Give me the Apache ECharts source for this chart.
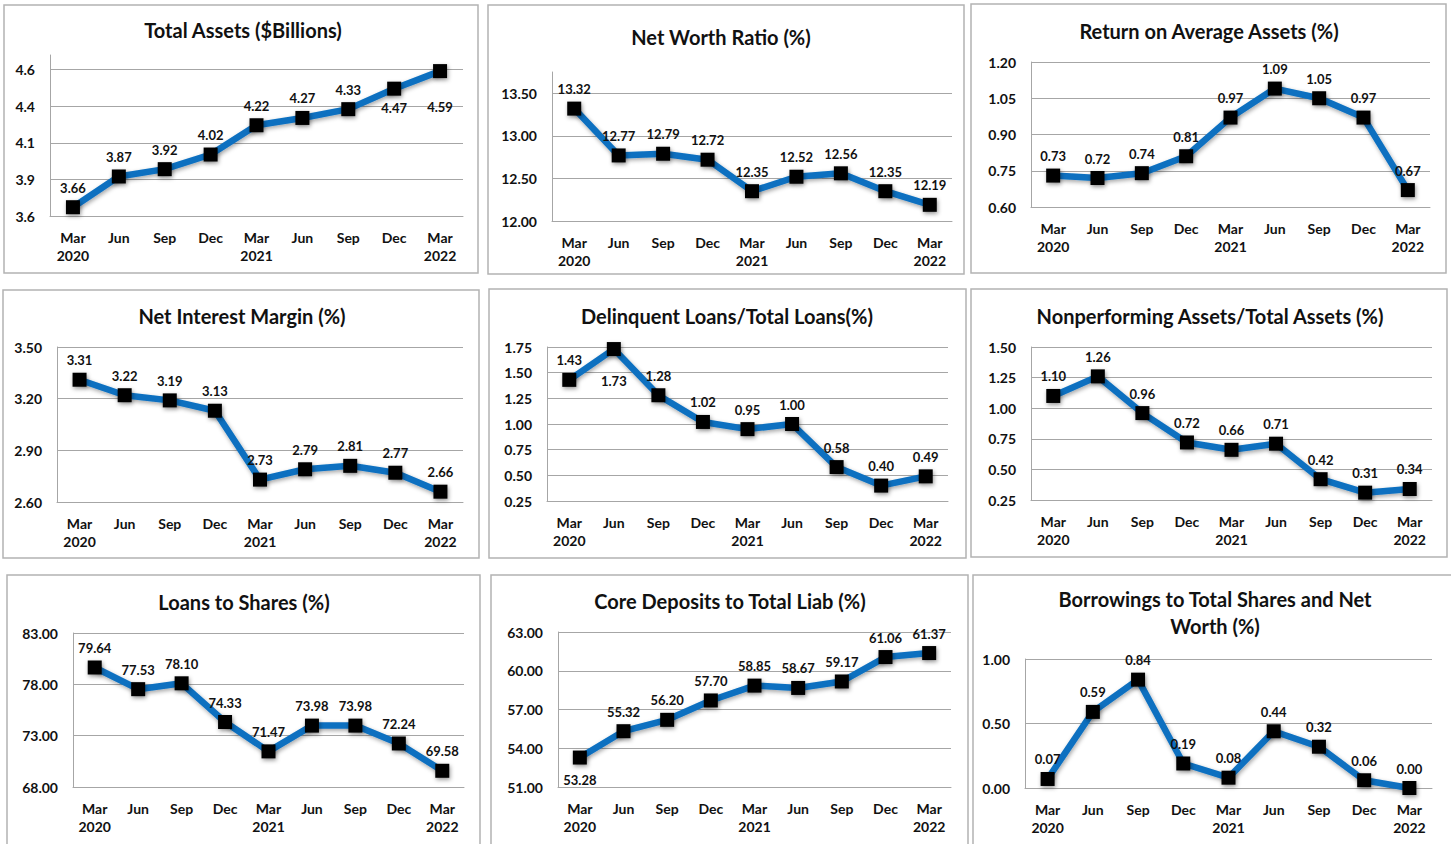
<!DOCTYPE html>
<html><head><meta charset="utf-8">
<script src="https://cdn.jsdelivr.net/npm/echarts@6/dist/echarts.min.js"></script>
<style>html,body{margin:0;padding:0;background:#fff}#c{width:1451px;height:844px}</style>
</head><body><div id="c"></div><script>
// ---------- data ----------
const categories = ['Mar\n2020','Jun','Sep','Dec','Mar\n2021','Jun','Sep','Dec','Mar\n2022'];

const totalAssets       = [3.66, 3.87, 3.92, 4.02, 4.22, 4.27, 4.33, 4.47, 4.59];
const netWorthRatio     = [13.32, 12.77, 12.79, 12.72, 12.35, 12.52, 12.56, 12.35, 12.19];
const returnOnAvgAssets = [0.73, 0.72, 0.74, 0.81, 0.97, 1.09, 1.05, 0.97, 0.67];
const netInterestMargin = [3.31, 3.22, 3.19, 3.13, 2.73, 2.79, 2.81, 2.77, 2.66];
const delinquentLoans   = [1.43, 1.73, 1.28, 1.02, 0.95, 1.00, 0.58, 0.40, 0.49];
const nonperforming     = [1.10, 1.26, 0.96, 0.72, 0.66, 0.71, 0.42, 0.31, 0.34];
const loansToShares     = [79.64, 77.53, 78.10, 74.33, 71.47, 73.98, 73.98, 72.24, 69.58];
const coreDeposits      = [53.28, 55.32, 56.20, 57.70, 58.85, 58.67, 59.17, 61.06, 61.37];
const borrowings        = [0.07, 0.59, 0.84, 0.19, 0.08, 0.44, 0.32, 0.06, 0.00];

const ticksTotalAssets  = ['3.6','3.9','4.1','4.4','4.6'];
const ticksNetWorth     = ['12.00','12.50','13.00','13.50'];
const ticksROAA         = ['0.60','0.75','0.90','1.05','1.20'];
const ticksNIM          = ['2.60','2.90','3.20','3.50'];
const ticksDelinquent   = ['0.25','0.50','0.75','1.00','1.25','1.50','1.75'];
const ticksNonperf      = ['0.25','0.50','0.75','1.00','1.25','1.50'];
const ticksLoans        = ['68.00','73.00','78.00','83.00'];
const ticksCore         = ['51.00','54.00','57.00','60.00','63.00'];
const ticksBorrow       = ['0.00','0.50','1.00'];

// ---------- layout / style ----------
const FONT = 'Lato';
const panels = [
  {title:['Total Assets ($Billions)'], data: totalAssets, ticks: ticksTotalAssets,
   min:3.6, max:4.7, interval:0.25, grid:[50,55,413,161], box:[4,5,474,268], tc:[243,30],
   below:{7:6, 8:22}},
  {title:['Net Worth Ratio (%)'], data: netWorthRatio, ticks: ticksNetWorth,
   min:12, max:13.75, interval:0.5, grid:[552,72,400,149], box:[488,5,476,269], tc:[721,37], below:{}},
  {title:['Return on Average Assets (%)'], data: returnOnAvgAssets, ticks: ticksROAA,
   min:0.6, max:1.2, interval:0.15, grid:[1031,62,399,145], box:[971,4,475,269], tc:[1209,31], below:{}},
  {title:['Net Interest Margin (%)'], data: netInterestMargin, ticks: ticksNIM,
   min:2.6, max:3.5, interval:0.3, grid:[57,347,406,155], box:[3,290,476,268], tc:[242,316], below:{}},
  {title:['Delinquent Loans/Total Loans(%)'], data: delinquentLoans, ticks: ticksDelinquent,
   min:0.25, max:1.75, interval:0.25, grid:[547,347,401,154], box:[489,289,477,269], tc:[727,316], below:{1:18}},
  {title:['Nonperforming Assets/Total Assets (%)'], data: nonperforming, ticks: ticksNonperf,
   min:0.25, max:1.5, interval:0.25, grid:[1031,347,401,153], box:[971,289,476,268], tc:[1210,316], below:{}},
  {title:['Loans to Shares (%)'], data: loansToShares, ticks: ticksLoans,
   min:68, max:83, interval:5, grid:[73,633,391,154], box:[7,575,473,290], tc:[244,602], below:{}},
  {title:['Core Deposits to Total Liab (%)'], data: coreDeposits, ticks: ticksCore,
   min:51, max:63, interval:3, grid:[558,632,393,155], box:[491,575,477,290], tc:[730,601], below:{0:9}},
  {title:['Borrowings to Total Shares and Net','Worth (%)'], data: borrowings, ticks: ticksBorrow,
   min:0, max:1, interval:0.5, grid:[1025,659,407,129], box:[973,575,490,290], tc:[1215,599], below:{}}
];

const grids = [], xAxes = [], yAxes = [], series = [], graphics = [];
panels.forEach((p, i) => {
  graphics.push({type:'rect', shape:{x:p.box[0], y:p.box[1], width:p.box[2], height:p.box[3]},
    style:{fill:'none', stroke:'#b3b3b3', lineWidth:1.5}, z:0});
  p.title.forEach((t, k) => {
    graphics.push({type:'text', x:p.tc[0], y:p.tc[1] + k*27, z:10,
      style:{text:t, align:'center', verticalAlign:'middle', fontFamily:FONT, fontSize:20,
             fontWeight:'bold', fill:'#111'}});
  });
  grids.push({left:p.grid[0], top:p.grid[1], width:p.grid[2], height:p.grid[3], containLabel:false});
  xAxes.push({type:'category', gridIndex:i, data:categories, boundaryGap:true,
    axisLine:{show:true, lineStyle:{color:'#a6a6a6', width:1}}, axisTick:{show:false},
    axisLabel:{interval:0, margin:12, lineHeight:18, fontFamily:FONT, fontSize:14,
               fontWeight:'bold', color:'#111'}});
  yAxes.push({type:'value', gridIndex:i, min:p.min, max:p.max, interval:p.interval,
    axisLine:{show:true, lineStyle:{color:'#a6a6a6', width:1}}, axisTick:{show:false},
    splitLine:{show:true, showMaxLine: p.ticks.length*p.interval + p.min - p.interval >= p.max - 1e-9,
               lineStyle:{color:'#a6a6a6', width:1}},
    axisLabel:{margin:15, fontFamily:FONT, fontSize:14, fontWeight:'bold', color:'#111',
      showMaxLabel:true,
      formatter:(v, idx) => (p.ticks[idx] !== undefined ? p.ticks[idx] : '')}});
  series.push({type:'line', xAxisIndex:i, yAxisIndex:i, clip:false, animation:false,
    data: p.data.map((v, j) => p.below[j] !== undefined
        ? {value:v, label:{position:'bottom', distance:p.below[j]}} : {value:v}),
    symbol:'rect', symbolSize:14,
    lineStyle:{color:'#0a6fc0', width:6.5, shadowColor:'rgba(0,0,0,0.35)', shadowBlur:4, shadowOffsetX:1, shadowOffsetY:2},
    itemStyle:{color:'#000', shadowColor:'rgba(0,0,0,0.4)', shadowBlur:4, shadowOffsetX:1, shadowOffsetY:2},
    label:{show:true, position:'top', distance:6, fontFamily:FONT, fontSize:13, fontWeight:'bold',
      color:'#111', formatter: q => q.value.toFixed(2)},
    emphasis:{disabled:true}, z:3});
});

const chart = echarts.init(document.getElementById('c'), null, {renderer:'svg', width:1451, height:844});
chart.setOption({animation:false, backgroundColor:'#fff', grid:grids, xAxis:xAxes, yAxis:yAxes,
  series:series, graphic:graphics});
</script></body></html>
